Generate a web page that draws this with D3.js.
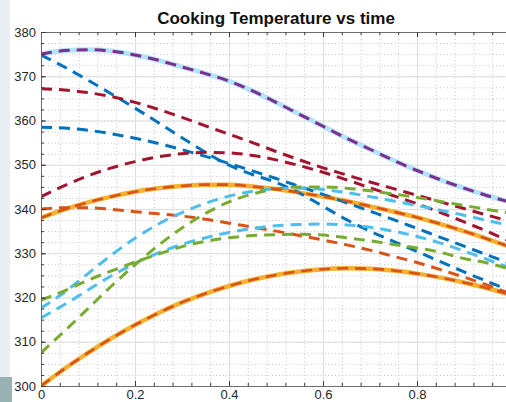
<!DOCTYPE html>
<html lang="en">
<head>
  <meta charset="UTF-8" />
  <title>Cooking Temperature vs time</title>
  <style>
    body { margin: 0; background: #e8eef1; }
    svg { display: block; font-family: "Liberation Sans", Arial, sans-serif; }
    .data-line { fill: none; }
  </style>
</head>
<body>
  <script src="https://cdn.jsdelivr.net/npm/d3@7"></script>
  <script>
    // sample positions along the time axis
    var times = [0, 0.05, 0.1, 0.15, 0.2, 0.25, 0.3, 0.35, 0.4, 0.45, 0.5,
                 0.55, 0.6, 0.65, 0.7, 0.75, 0.8, 0.85, 0.9, 0.95, 1.0];

    // highlighted curves (thick solid under a dashed line)
    var purpleTemp = [375, 375.8, 376, 375.7, 374.8, 373.6, 372.1, 370.6, 368.9, 366.7, 364.1,
                      361.4, 358.7, 356, 353.5, 351, 348.7, 346.6, 344.7, 343, 341.5];
    var orangeHigh = [338, 339.9, 341.5, 342.8, 343.9, 344.7, 345.2, 345.5, 345.5, 345.1, 344.5,
                      343.7, 342.8, 341.8, 340.6, 339.4, 338.1, 336.6, 335, 333.2, 331.4];
    var orangeLow = [300, 303.9, 307.5, 310.8, 313.8, 316.5, 318.9, 320.9, 322.6, 324, 325.1,
                     325.9, 326.4, 326.6, 326.5, 326.1, 325.4, 324.5, 323.4, 322.1, 320.6];

    // other dashed curves
    var blueA = [374.8, 372.1, 369.1, 366, 362.8, 359.5, 356.1, 352.8, 349.9, 347.8, 346,
                 343.6, 340.6, 337.6, 335, 332.7, 330.4, 328.1, 325.8, 323.6, 321.5];
    var blueB = [358.5, 358.3, 357.8, 357, 356, 354.8, 353.4, 351.9, 350.3, 348.6, 346.9,
                 345.1, 343.3, 341.4, 339.5, 337.6, 335.6, 333.6, 331.6, 329.6, 327.6];
    var redA = [367.2, 366.9, 366.3, 365.4, 364.1, 362.5, 360.7, 358.8, 356.9, 355, 353,
                351.1, 349.3, 347.7, 346.1, 344.6, 343.1, 341.6, 340.1, 338.6, 337.1];
    var redB = [342.8, 345.3, 347.5, 349.3, 350.7, 351.8, 352.5, 352.8, 352.7, 352.1, 351.1,
                349.8, 348.3, 346.6, 344.8, 343, 341.2, 339.2, 337.1, 334.9, 332.6];
    var orangeMid = [340, 340.3, 340.3, 339.9, 339.4, 338.9, 338.4, 337.7, 336.8, 335.9, 335,
                     334, 333, 331.9, 330.7, 329.3, 327.9, 326.3, 324.6, 322.8, 320.8];
    var skyA = [317.6, 321.2, 325.4, 329.6, 333.4, 336.6, 339.2, 341.3, 342.9, 344, 344.6,
                344.7, 344.4, 343.7, 342.8, 341.8, 340.8, 339.7, 338.6, 337.4, 336.2];
    var skyB = [315.4, 318.4, 321.7, 324.9, 327.7, 330.1, 332, 333.5, 334.7, 335.6, 336.2,
                336.5, 336.6, 336.4, 335.9, 335, 333.8, 332.3, 330.5, 328.6, 326.6];
    var greenA = [307.5, 312.4, 317.5, 322.6, 327.4, 331.8, 335.7, 339, 341.6, 343.4, 344.5,
                  345, 345, 344.7, 344.1, 343.4, 342.6, 341.7, 340.8, 339.9, 339];
    var greenB = [319.4, 321.5, 323.9, 326, 328, 329.8, 331.5, 332.7, 333.5, 334, 334.2,
                  334.3, 334.1, 333.5, 332.8, 332, 331.2, 330.2, 328.8, 327.8, 326.3];

    var xTicks = [0, 0.2, 0.4, 0.6, 0.8, 1];
    var xLabels = ["0", "0.2", "0.4", "0.6", "0.8"];
    var yTicks = [300, 310, 320, 330, 340, 350, 360, 370, 380];

    var w = 506, h = 402;
    var margin = { top: 32, left: 41, bottom: 16 };
    var plotW = 470, plotH = h - margin.top - margin.bottom;

    var svg = d3.select("body").append("svg")
      .attr("width", w)
      .attr("height", h);

    // window frame
    svg.append("rect").attr("x", 0).attr("y", 0).attr("width", w).attr("height", h).attr("fill", "#e8eef1");
    svg.append("rect").attr("x", 10).attr("y", 0).attr("width", w - 10).attr("height", h).attr("fill", "#ffffff");
    svg.append("rect").attr("x", 0).attr("y", 377).attr("width", 12).attr("height", 25).attr("fill", "#98b1b3");

    var xScale = d3.scaleLinear().domain([0, 1]).range([0, plotW]);
    var yScale = d3.scaleLinear().domain([300, 380]).range([plotH, 0]);

    var g = svg.append("g")
      .attr("transform", "translate(" + margin.left + "," + margin.top + ")");

    // minor grid (dotted)
    g.append("g")
      .call(d3.axisBottom(xScale).tickValues(d3.range(0, 1.0001, 0.04)).tickSize(plotH).tickFormat(""))
      .call(function(s) {
        s.select(".domain").remove();
        s.selectAll("line").attr("stroke", "#c4c4c4").attr("stroke-dasharray", "1,2.5");
      });
    g.append("g")
      .call(d3.axisLeft(yScale).tickValues(d3.range(300, 380.01, 2.5)).tickSize(-plotW).tickFormat(""))
      .call(function(s) {
        s.select(".domain").remove();
        s.selectAll("line").attr("stroke", "#c4c4c4").attr("stroke-dasharray", "1,2.5");
      });

    // major grid
    g.append("g")
      .call(d3.axisBottom(xScale).tickValues(xTicks).tickSize(plotH).tickFormat(""))
      .call(function(s) {
        s.select(".domain").remove();
        s.selectAll("line").attr("stroke", "#dedede");
      });
    g.append("g")
      .call(d3.axisLeft(yScale).tickValues(yTicks).tickSize(-plotW).tickFormat(""))
      .call(function(s) {
        s.select(".domain").remove();
        s.selectAll("line").attr("stroke", "#dedede");
      });

    svg.append("clipPath").attr("id", "plot-clip")
      .append("rect").attr("width", plotW).attr("height", plotH);

    var lines = g.append("g").attr("clip-path", "url(#plot-clip)");

    var line = d3.line()
      .x(function(d, i) { return xScale(times[i]); })
      .y(function(d) { return yScale(d); })
      .curve(d3.curveMonotoneX);

    function draw(values, color, width, dash) {
      lines.append("path")
        .datum(values)
        .attr("class", "data-line")
        .attr("stroke", color)
        .attr("stroke-width", width)
        .attr("stroke-dasharray", dash)
        .attr("d", line);
    }

    // thick highlights
    draw(purpleTemp, "#b4e3f7", 5, null);
    draw(orangeHigh, "#f4b02e", 4.5, null);
    draw(orangeLow, "#f4b02e", 4.5, null);

    var dash = "11,7";
    draw(blueA, "#0072BD", 3, dash);
    draw(redA, "#A2142F", 3, dash);
    draw(blueB, "#0072BD", 3, dash);
    draw(redB, "#A2142F", 3, dash);
    draw(orangeMid, "#D95319", 3, dash);
    draw(skyA, "#4DBEEE", 3, dash);
    draw(skyB, "#4DBEEE", 3, dash);
    draw(greenA, "#77AC30", 3, dash);
    draw(greenB, "#77AC30", 3, dash);

    draw(purpleTemp, "#7E2F8E", 3, dash);
    draw(orangeHigh, "#D95319", 2.6, dash);
    draw(orangeLow, "#D95319", 2.6, dash);

    // axes with inward ticks
    function styleAxis(s) {
      s.select(".domain").attr("stroke", "#6e6e6e");
      s.selectAll(".tick line").attr("stroke", "#3a3a3a");
      s.selectAll("text").attr("fill", "#262626").style("font-size", "13px");
    }

    g.append("g")
      .attr("transform", "translate(0," + plotH + ")")
      .call(d3.axisBottom(xScale).tickValues(xTicks).tickSizeInner(-5).tickSizeOuter(0).tickPadding(4)
        .tickFormat(function(d, i) { return xLabels[i] || ""; }))
      .call(styleAxis);
    g.append("g")
      .attr("transform", "translate(0," + plotH + ")")
      .call(d3.axisBottom(xScale).tickValues(d3.range(0, 1.0001, 0.04)).tickSizeInner(-3).tickSizeOuter(0).tickFormat(""))
      .call(styleAxis);
    g.append("g")
      .call(d3.axisTop(xScale).tickValues(xTicks).tickSizeInner(-5).tickSizeOuter(0).tickFormat(""))
      .call(styleAxis);
    g.append("g")
      .call(d3.axisTop(xScale).tickValues(d3.range(0, 1.0001, 0.04)).tickSizeInner(-3).tickSizeOuter(0).tickFormat(""))
      .call(styleAxis);

    g.append("g")
      .call(d3.axisLeft(yScale).tickValues(yTicks).tickSizeInner(-5).tickSizeOuter(0).tickPadding(5))
      .call(styleAxis);
    g.append("g")
      .call(d3.axisLeft(yScale).tickValues(d3.range(300, 380.01, 2.5)).tickSizeInner(-3).tickSizeOuter(0).tickFormat(""))
      .call(styleAxis);

    svg.append("text")
      .attr("x", margin.left + plotW / 2)
      .attr("y", 24)
      .attr("text-anchor", "middle")
      .attr("fill", "#111")
      .style("font-size", "17px")
      .style("font-weight", "bold")
      .text("Cooking Temperature vs time");
  </script>
</body>
</html>
